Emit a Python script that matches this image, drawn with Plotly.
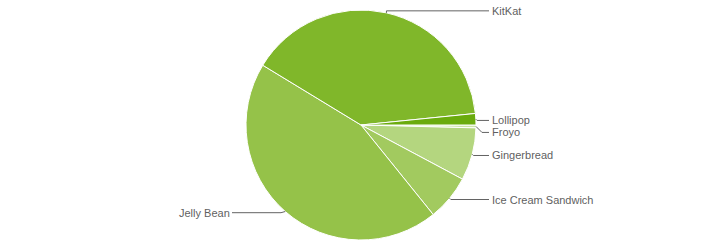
import math
import plotly.graph_objects as go

# Data
labels = ["Froyo", "Gingerbread", "Ice Cream Sandwich", "Jelly Bean", "KitKat", "Lollipop"]
values = [0.4, 7.4, 6.4, 44.5, 39.7, 1.6]
colors = ["#cbe4a6", "#b4d67f", "#a2ca5f", "#95c249", "#80b72a", "#6aab0d"]

W, H = 720, 250
CX, CY, R = 361, 125, 115
TEXT_COLOR = "#5f5f5f"
LINE_COLOR = "#636363"

fig = go.Figure(go.Pie(
    labels=labels, values=values, sort=False, direction="clockwise", rotation=90,
    marker=dict(colors=colors, line=dict(color="white", width=1)),
    textinfo="none", hoverinfo="label+percent", showlegend=False,
    domain=dict(x=[(CX - R) / W, (CX + R) / W], y=[(H - CY - R) / H, (H - CY + R) / H]),
))

# compute leader anchor points from the slice angles (clockwise from 3 o'clock)
total = sum(values)
start = 0.0
anchors = []
for lab, v in zip(labels, values):
    span = v / total * 360
    mid = math.radians(start + span / 2)
    ex, ey = CX + R * math.cos(mid), CY + R * math.sin(mid)
    anchors.append((lab, ex, ey))
    start += span

right = sorted([a for a in anchors if a[1] >= CX], key=lambda a: a[2])
left = sorted([a for a in anchors if a[1] < CX], key=lambda a: a[2])

SPACING = 12
DROP = 1.2
def place(items):
    out = []
    prev = -1e9
    for lab, ex, ey in items:
        ly = max(ey + DROP, prev + SPACING)
        out.append((lab, ex, ey, ly))
        prev = ly
    return out

def px(x):
    return x / W

def py(y):
    return 1 - y / H

shapes = []
annotations = []
for side, items in (("right", place(right)), ("left", place(left))):
    for lab, ex, ey, ly in items:
        # KitKat sits at the top; pull its label a bit upward like the reference
        if lab == "KitKat":
            ly = ey - 2
        dy = abs(ly - ey)
        if side == "right":
            bx = ex + dy if lab != "KitKat" else ex
            endx = 489
            tx, anchor = 491, "left"
        else:
            bx = ex - dy - 3
            endx = 232
            tx, anchor = 231, "right"
        path = f"M {px(ex)},{py(ey)} L {px(bx)},{py(ly)} L {px(endx)},{py(ly)}"
        shapes.append(dict(type="path", xref="paper", yref="paper", path=path,
                           line=dict(color=LINE_COLOR, width=1)))
        annotations.append(dict(x=px(tx), y=py(ly), xref="paper", yref="paper",
                                text=lab, showarrow=False, xanchor=anchor, yanchor="middle",
                                font=dict(family="Liberation Sans, Arial, sans-serif", size=11,
                                          color=TEXT_COLOR),
                                borderpad=0))

fig.update_layout(
    width=W, height=H, margin=dict(l=0, r=0, t=0, b=0),
    paper_bgcolor="white", plot_bgcolor="white",
    shapes=shapes, annotations=annotations,
)

fig.write_html("out.html")
